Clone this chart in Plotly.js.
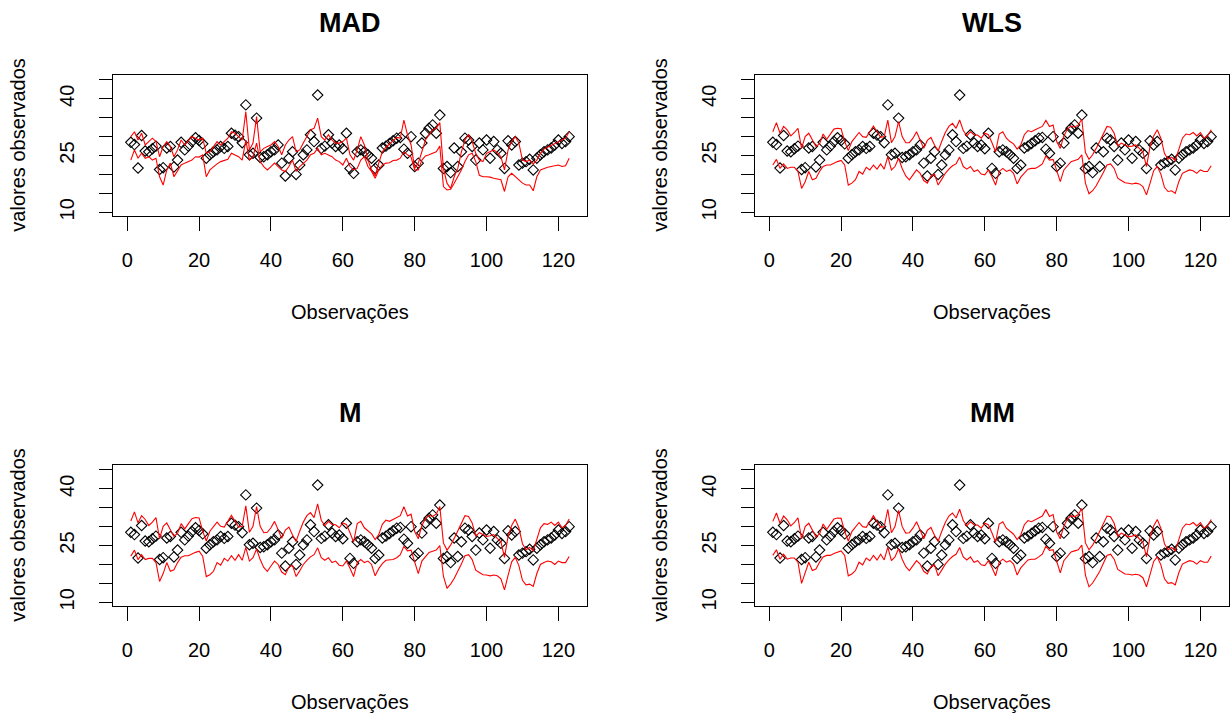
<!DOCTYPE html>
<html>
<head>
<meta charset="utf-8">
<script src="https://cdn.plot.ly/plotly-3.0.1.min.js"></script>
<style>html,body{margin:0;padding:0;background:#fff;}#chart{width:1232px;height:719px;}</style>
</head>
<body>
<div id="chart"></div>
<script>
// ---- data ----
const panelTitles = ["MAD", "WLS", "M", "MM"];
const xTickVals = [0, 20, 40, 60, 80, 100, 120];
const yTickVals = [10, 15, 20, 25, 30, 35, 40, 45];
const yTickText = ["10", "", "", "25", "", "", "40", ""];
const xTitle = "Observações";
const yTitle = "valores observados";

const observed = [
28.5, 27.9, 21.7, 30.3, 26.2, 26.0, 26.8, 27.5, 21.3, 21.8,
27.0, 27.4, 22.0, 23.8, 28.5, 26.5, 27.5, 28.7, 29.7, 29.0,
28.1, 24.3, 25.2, 26.0, 26.5, 27.4, 26.9, 27.4, 30.9, 30.4,
30.0, 28.4, 38.4, 25.2, 25.6, 34.9, 24.5, 24.7, 25.2, 26.0,
26.5, 27.8, 23.0, 19.6, 24.3, 26.0, 20.0, 22.5, 25.2, 26.5,
30.5, 28.7, 41.0, 26.9, 27.5, 30.5, 28.3, 27.4, 27.8, 26.8,
30.9, 21.6, 20.3, 26.0, 26.5, 26.0, 25.2, 24.3, 21.6, 22.5,
27.0, 27.5, 28.2, 28.9, 29.6, 29.8, 26.7, 25.6, 30.0, 22.1,
23.0, 28.3, 30.9, 32.2, 33.1, 30.9, 35.7, 21.6, 22.1, 20.5,
27.0, 22.1, 26.0, 29.6, 29.1, 27.4, 23.8, 28.3, 26.5, 29.1,
24.3, 28.7, 26.5, 25.6, 21.6, 28.9, 27.8, 28.7, 22.5, 23.0,
23.4, 24.0, 21.2, 24.3, 25.2, 26.0, 26.5, 27.0, 27.8, 29.1,
28.2, 28.7, 30.0];

const madUpper = [
30.0, 31.3, 29.1, 30.9, 27.8, 28.7, 29.6, 28.7, 24.7, 27.4,
28.7, 27.4, 24.7, 26.5, 29.1, 27.8, 29.0, 30.0, 29.6, 29.1,
29.6, 25.6, 26.0, 27.4, 28.7, 27.8, 28.7, 29.6, 31.3, 30.9,
30.0, 29.1, 36.6, 26.5, 28.3, 35.3, 26.0, 26.9, 27.4, 27.8,
28.7, 27.4, 25.2, 27.8, 29.1, 30.0, 26.0, 26.5, 28.3, 30.0,
31.8, 32.2, 34.9, 30.0, 29.1, 30.5, 29.1, 28.3, 28.3, 28.7,
29.6, 25.2, 23.8, 26.5, 30.0, 27.8, 23.8, 21.2, 19.6, 23.0,
26.0, 27.2, 28.1, 29.0, 29.8, 29.6, 34.4, 30.5, 27.8, 21.6,
23.0, 26.0, 29.1, 30.5, 31.8, 32.2, 33.7, 21.6, 17.7, 16.3,
19.4, 21.6, 26.0, 29.1, 30.5, 28.7, 25.6, 23.8, 23.4, 25.6,
26.0, 26.5, 25.8, 24.7, 21.2, 26.5, 28.7, 30.0, 28.3, 23.8,
23.4, 23.8, 22.8, 23.8, 25.6, 26.7, 27.2, 27.7, 28.1, 28.6,
29.1, 29.6, 31.3];

const madLower = [
23.8, 26.5, 24.3, 25.6, 24.3, 24.7, 23.8, 24.3, 19.4, 17.2,
21.2, 23.0, 19.4, 20.8, 22.5, 23.0, 23.4, 23.8, 24.7, 24.6,
25.2, 19.4, 21.2, 22.1, 22.8, 23.4, 23.8, 24.0, 25.6, 25.2,
24.7, 23.8, 29.1, 23.8, 24.7, 28.3, 23.4, 22.1, 21.2, 22.1,
23.0, 22.1, 21.2, 20.8, 22.1, 23.8, 20.8, 22.1, 23.0, 23.8,
25.2, 25.6, 26.9, 25.2, 25.6, 25.2, 24.7, 23.8, 23.4, 22.5,
24.3, 22.1, 21.2, 21.6, 23.8, 24.7, 22.1, 20.8, 19.0, 21.2,
22.5, 23.0, 23.1, 23.7, 23.8, 24.3, 26.0, 25.2, 24.6, 21.2,
21.2, 23.8, 24.9, 25.2, 25.6, 26.0, 27.5, 16.8, 15.9, 16.1,
17.7, 19.4, 21.2, 23.4, 25.2, 25.6, 23.4, 19.8, 19.4, 19.4,
19.3, 19.0, 18.7, 18.6, 15.5, 19.4, 20.3, 19.4, 18.6, 17.7,
17.2, 17.2, 15.7, 19.4, 21.2, 21.6, 21.9, 22.1, 22.3, 22.5,
22.1, 22.3, 24.3];

const wlsUpper = [
31.3, 33.7, 30.9, 32.7, 31.8, 30.2, 31.1, 32.2, 26.9, 30.0,
30.9, 29.0, 27.4, 28.1, 30.7, 29.3, 30.7, 32.0, 32.2, 32.1,
28.7, 26.3, 28.7, 29.8, 31.1, 30.0, 29.8, 31.3, 32.8, 31.3,
29.8, 30.0, 34.4, 28.4, 30.0, 34.0, 30.0, 28.4, 28.4, 29.6,
31.3, 29.1, 26.9, 29.0, 29.8, 27.8, 26.2, 28.7, 31.1, 32.7,
33.5, 32.2, 34.4, 31.6, 30.2, 31.3, 30.5, 30.4, 29.6, 30.9,
30.5, 28.4, 26.0, 30.7, 31.3, 29.6, 28.7, 28.1, 26.7, 27.8,
30.5, 31.6, 31.3, 31.8, 32.2, 32.7, 34.3, 32.7, 33.1, 28.7,
26.9, 30.2, 32.0, 32.8, 32.5, 33.1, 34.6, 25.8, 24.0, 25.2,
26.9, 28.7, 30.9, 32.7, 32.5, 30.9, 27.5, 28.3, 27.8, 27.4,
27.5, 27.8, 26.9, 26.0, 22.1, 27.4, 30.2, 31.8, 29.6, 25.6,
24.0, 24.6, 23.7, 26.9, 29.6, 30.7, 30.5, 31.1, 30.2, 31.1,
29.6, 30.2, 31.8];

const wlsLower = [
22.5, 24.0, 21.6, 22.8, 21.6, 21.9, 21.9, 20.8, 16.3, 18.1,
20.8, 18.6, 19.0, 20.8, 22.1, 22.5, 22.5, 23.0, 23.4, 23.7,
22.5, 17.2, 17.7, 18.6, 20.8, 20.1, 21.9, 21.2, 22.5, 21.4,
22.8, 21.4, 24.7, 21.2, 22.1, 24.3, 21.6, 19.6, 18.6, 19.9,
21.2, 20.3, 18.4, 17.7, 19.6, 20.1, 17.2, 18.7, 20.3, 21.4,
22.3, 22.8, 24.6, 22.1, 21.4, 22.1, 20.8, 21.2, 20.1, 19.9,
21.2, 19.4, 17.2, 20.8, 21.6, 20.8, 21.2, 20.3, 17.5, 19.3,
20.5, 21.4, 21.6, 21.6, 22.1, 22.8, 24.9, 23.8, 24.0, 21.2,
18.1, 21.2, 22.3, 23.4, 23.7, 24.0, 25.2, 17.7, 14.9, 15.7,
17.0, 18.6, 20.5, 22.5, 22.8, 21.6, 19.0, 18.4, 17.8, 17.7,
17.5, 17.7, 17.5, 16.8, 14.6, 17.7, 21.0, 22.1, 20.1, 16.6,
15.5, 15.7, 15.0, 18.1, 20.3, 20.8, 21.2, 21.0, 20.3, 21.2,
20.8, 20.8, 22.3];

const mUpper = [
31.5, 33.9, 31.0, 32.9, 31.9, 30.3, 31.2, 32.4, 26.8, 30.1,
31.0, 29.1, 27.4, 28.2, 30.8, 29.4, 30.8, 32.1, 32.4, 32.3,
28.8, 26.2, 28.8, 29.9, 31.2, 30.1, 29.9, 31.4, 33.0, 31.4,
29.9, 30.1, 35.5, 28.5, 30.1, 35.3, 30.1, 28.4, 28.5, 29.7,
31.4, 29.2, 26.9, 29.1, 29.9, 27.8, 26.1, 28.8, 31.2, 32.9,
33.7, 32.4, 36.0, 31.7, 30.3, 31.4, 30.6, 30.5, 29.7, 31.0,
30.6, 28.4, 25.9, 30.8, 31.4, 29.7, 28.8, 28.1, 26.6, 27.9,
30.6, 31.7, 31.4, 31.9, 32.4, 32.9, 35.3, 32.8, 33.3, 28.7,
26.8, 30.3, 32.1, 33.0, 32.7, 33.3, 35.3, 25.7, 23.8, 25.1,
26.9, 28.8, 31.0, 32.9, 32.7, 31.0, 27.5, 28.4, 27.9, 27.4,
27.6, 27.9, 26.9, 26.0, 21.9, 27.4, 30.3, 32.0, 29.7, 25.5,
23.9, 24.5, 23.6, 26.9, 29.7, 30.8, 30.6, 31.2, 30.3, 31.2,
29.7, 30.3, 32.0];

const mLower = [
22.2, 23.8, 21.3, 22.6, 21.3, 21.6, 21.6, 20.5, 15.5, 17.6,
20.5, 18.2, 18.6, 20.5, 21.9, 22.3, 22.3, 22.8, 23.2, 23.5,
22.2, 16.8, 17.3, 18.2, 20.5, 19.8, 21.6, 20.9, 22.3, 21.1,
22.6, 21.1, 24.5, 20.9, 21.8, 24.1, 21.3, 19.2, 18.2, 19.6,
20.9, 20.0, 18.0, 17.3, 19.3, 19.8, 16.8, 18.3, 20.0, 21.1,
22.0, 22.6, 24.4, 21.8, 21.1, 21.8, 20.5, 20.9, 19.8, 19.6,
20.9, 19.0, 16.8, 20.5, 21.3, 20.5, 20.9, 20.0, 17.0, 18.9,
20.2, 21.1, 21.3, 21.3, 21.8, 22.6, 24.8, 23.6, 23.8, 20.9,
17.6, 20.9, 22.0, 23.2, 23.5, 23.8, 25.0, 16.9, 13.7, 14.8,
16.3, 18.0, 20.1, 22.3, 22.6, 21.3, 18.5, 17.9, 17.3, 17.2,
17.0, 17.2, 17.0, 16.2, 13.3, 17.1, 20.7, 21.9, 19.7, 15.8,
14.6, 14.8, 14.2, 17.6, 20.0, 20.5, 20.9, 20.7, 20.0, 20.9,
20.5, 20.5, 22.1];

const mmUpper = [
31.4, 33.6, 30.9, 32.8, 31.8, 30.2, 31.1, 32.3, 26.8, 30.0,
30.9, 29.0, 27.3, 28.1, 30.7, 29.3, 30.7, 32.0, 32.3, 32.2,
28.7, 26.2, 28.7, 29.8, 31.1, 30.0, 29.8, 31.3, 32.9, 31.3,
29.8, 30.0, 34.6, 28.4, 30.0, 34.3, 30.0, 28.3, 28.4, 29.6,
31.3, 29.1, 26.8, 29.0, 29.8, 27.7, 26.1, 28.7, 31.1, 32.8,
33.6, 32.3, 34.6, 31.6, 30.2, 31.3, 30.5, 30.4, 29.6, 30.9,
30.5, 28.3, 25.9, 30.7, 31.3, 29.6, 28.7, 28.0, 26.6, 27.8,
30.5, 31.6, 31.3, 31.8, 32.3, 32.8, 34.5, 32.7, 33.2, 28.6,
26.8, 30.2, 32.0, 32.9, 32.6, 33.2, 34.8, 25.7, 23.9, 25.1,
26.8, 28.7, 30.9, 32.8, 32.6, 30.9, 27.4, 28.3, 27.8, 27.3,
27.5, 27.8, 26.8, 25.9, 22.0, 27.3, 30.2, 31.9, 29.6, 25.5,
23.9, 24.5, 23.6, 26.8, 29.6, 30.7, 30.5, 31.1, 30.2, 31.1,
29.6, 30.2, 31.9];

const mmLower = [
22.4, 23.9, 21.4, 22.7, 21.4, 21.7, 21.7, 20.6, 15.0, 17.9,
20.6, 18.4, 18.8, 20.6, 22.0, 22.4, 22.4, 22.9, 23.3, 23.6,
22.4, 17.0, 17.5, 18.4, 20.6, 19.9, 21.7, 21.0, 22.4, 21.2,
22.7, 21.2, 24.6, 21.0, 22.0, 24.2, 21.4, 19.4, 18.4, 19.7,
21.0, 20.1, 18.2, 17.5, 19.4, 19.9, 17.0, 18.5, 20.1, 21.2,
22.1, 22.7, 24.5, 22.0, 21.2, 22.0, 20.6, 21.0, 19.9, 19.7,
21.0, 19.2, 17.0, 20.6, 21.4, 20.6, 21.0, 20.1, 17.2, 19.1,
20.3, 21.2, 21.4, 21.4, 22.0, 22.7, 24.8, 23.7, 23.9, 21.0,
17.8, 21.0, 22.1, 23.3, 23.6, 23.9, 25.1, 17.2, 14.1, 15.1,
16.6, 18.2, 20.3, 22.4, 22.7, 21.4, 18.7, 18.1, 17.5, 17.4,
17.2, 17.4, 17.2, 16.5, 14.1, 17.4, 20.8, 22.0, 19.9, 16.2,
15.0, 15.2, 14.6, 17.8, 20.1, 20.6, 21.0, 20.8, 20.1, 21.0,
20.6, 20.6, 22.2];

// ---- build ----
const obsIndex = observed.map((_, i) => i + 1);
const bands = [[madUpper, madLower], [wlsUpper, wlsLower], [mUpper, mLower], [mmUpper, mmLower]];

const W = 1232, H = 719;
const boxX = [[113.3, 586.7], [755.3, 1228.7], [113.3, 586.7], [755.3, 1228.7]];
const boxY = [[75, 215.7], [75, 215.7], [465, 605.7], [465, 605.7]];
const FONT = '"Liberation Sans", Arial, Helvetica, sans-serif';

const traces = [];
const layout = {
  width: W, height: H,
  margin: {l: 0, r: 0, t: 0, b: 0},
  paper_bgcolor: '#ffffff', plot_bgcolor: '#ffffff',
  showlegend: false,
  font: {family: FONT, color: '#000000'},
  annotations: []
};

for (let p = 0; p < 4; p++) {
  const sfx = p === 0 ? '' : String(p + 1);
  const xa = 'x' + sfx, ya = 'y' + sfx;
  traces.push({
    x: obsIndex, y: observed, xaxis: xa, yaxis: ya, type: 'scatter', mode: 'markers',
    marker: {symbol: 'diamond-open', size: 8, color: '#000000', line: {width: 1.1, color: '#000000'}},
    hoverinfo: 'skip'
  });
  for (const band of bands[p]) {
    traces.push({
      x: obsIndex, y: band, xaxis: xa, yaxis: ya, type: 'scatter', mode: 'lines',
      line: {color: '#ff0000', width: 1.1}, hoverinfo: 'skip'
    });
  }
  const dx = [boxX[p][0] / W, boxX[p][1] / W];
  const dy = [1 - boxY[p][1] / H, 1 - boxY[p][0] / H];
  layout['xaxis' + sfx] = {
    domain: dx, anchor: ya, range: [-3.88, 127.88],
    tickmode: 'array', tickvals: xTickVals, ticktext: xTickVals.map(String),
    ticks: 'outside', ticklen: 14, tickwidth: 1, tickcolor: '#000',
    tickfont: {size: 20, family: FONT, color: '#000'},
    ticklabelstandoff: 12,
    showline: true, mirror: true, linecolor: '#000', linewidth: 1,
    showgrid: false, zeroline: false, fixedrange: true
  };
  layout['yaxis' + sfx] = {
    domain: dy, anchor: xa, range: [9.1, 46.3],
    tickmode: 'array', tickvals: yTickVals, ticktext: yTickText,
    tickangle: -90,
    ticks: 'outside', ticklen: 13, tickwidth: 1, tickcolor: '#000',
    tickfont: {size: 20, family: FONT, color: '#000'},
    ticklabelstandoff: 17,
    showline: true, mirror: true, linecolor: '#000', linewidth: 1,
    showgrid: false, zeroline: false, fixedrange: true
  };
  const cx = (boxX[p][0] + boxX[p][1]) / 2 / W;
  const cyBox = (boxY[p][0] + boxY[p][1]) / 2;
  layout.annotations.push({
    text: '<b>' + panelTitles[p] + '</b>', xref: 'paper', yref: 'paper',
    x: cx, y: 1 - (boxY[p][0] - 52) / H, xanchor: 'center', yanchor: 'middle',
    showarrow: false, font: {size: 27, family: FONT, color: '#000'}
  });
  layout.annotations.push({
    text: xTitle, xref: 'paper', yref: 'paper',
    x: cx, y: 1 - (boxY[p][1] + 96) / H, xanchor: 'center', yanchor: 'middle',
    showarrow: false, font: {size: 20, family: FONT, color: '#000'}
  });
  layout.annotations.push({
    text: yTitle, xref: 'paper', yref: 'paper', textangle: -90,
    x: (boxX[p][0] - 95) / W, y: 1 - cyBox / H, xanchor: 'center', yanchor: 'middle',
    showarrow: false, font: {size: 20, family: FONT, color: '#000'}
  });
}

Plotly.newPlot('chart', traces, layout, {staticPlot: true, displayModeBar: false});
</script>
</body>
</html>
